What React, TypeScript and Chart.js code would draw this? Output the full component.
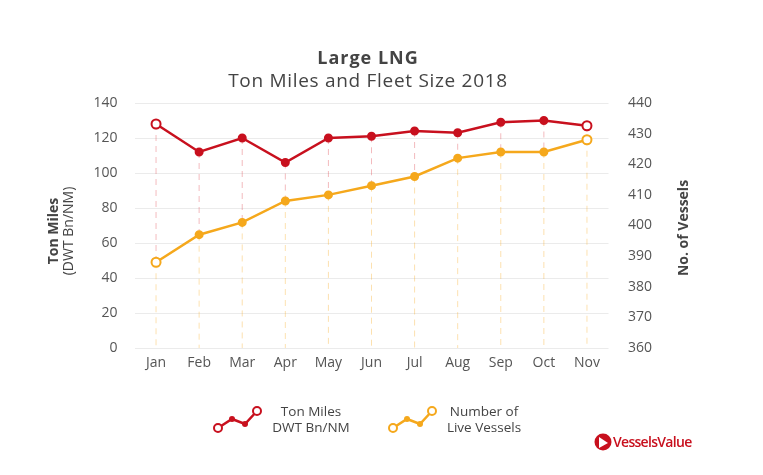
import { useEffect, useRef } from 'react';
import { Chart, registerables } from 'chart.js';
Chart.register(...registerables);

const months = ['Jan', 'Feb', 'Mar', 'Apr', 'May', 'Jun', 'Jul', 'Aug', 'Sep', 'Oct', 'Nov'];
const tonMiles = [128, 112, 120, 106, 120, 121, 124, 123, 129, 130, 127];
const vessels = [388, 397, 401, 408, 410, 413, 416, 422, 424, 424, 428];
const leftTicks = [0, 140, 20];
const rightTicks = [360, 440, 10];

const FONT = '"Open Sans", sans-serif';
const RED = '#c8101e';
const ORANGE = '#f5a81c';
const TEXT = '#444444';

function drawLegendIcon(ctx: CanvasRenderingContext2D, x: number, y: number, color: string) {
  const pts = [[0, 17], [14, 8], [27, 13], [39, 0]];
  ctx.save();
  ctx.strokeStyle = color;
  ctx.lineWidth = 2.5;
  ctx.beginPath();
  pts.forEach(([px, py], i) => (i === 0 ? ctx.moveTo(x + px, y + py) : ctx.lineTo(x + px, y + py)));
  ctx.stroke();
  pts.forEach(([px, py], i) => {
    ctx.beginPath();
    const end = i === 0 || i === pts.length - 1;
    ctx.arc(x + px, y + py, end ? 4 : 3, 0, Math.PI * 2);
    ctx.fillStyle = end ? '#ffffff' : color;
    ctx.fill();
    if (end) { ctx.lineWidth = 2; ctx.stroke(); }
  });
  ctx.restore();
}

export default function App() {
  const ref = useRef<HTMLCanvasElement>(null);
  useEffect(() => {
    const canvas = ref.current!;
    const overlay = {
      id: 'overlay',
      beforeDatasetsDraw(chart: any) {
        const ctx = chart.ctx as CanvasRenderingContext2D;
        const m0 = chart.getDatasetMeta(0);
        const m1 = chart.getDatasetMeta(1);
        const bottom = chart.chartArea.bottom;
        ctx.save();
        ctx.lineWidth = 1;
        ctx.setLineDash([6, 5]);
        for (let i = 0; i < months.length; i++) {
          const x = m0.data[i].x;
          const y0 = m0.data[i].y;
          const y1 = m1.data[i].y;
          if (y0 < y1) {
            ctx.strokeStyle = 'rgba(220,60,70,0.35)';
            ctx.beginPath(); ctx.moveTo(x, y0); ctx.lineTo(x, y1); ctx.stroke();
          }
          ctx.strokeStyle = 'rgba(245,168,28,0.35)';
          ctx.beginPath(); ctx.moveTo(x, Math.max(y1, y0)); ctx.lineTo(x, bottom); ctx.stroke();
        }
        ctx.restore();
      },
      afterDraw(chart: any) {
        const ctx = chart.ctx as CanvasRenderingContext2D;
        ctx.save();
        ctx.fillStyle = TEXT;
        ctx.textAlign = 'center';
        ctx.textBaseline = 'alphabetic';
        ctx.font = `bold 18px ${FONT}`;
        (ctx as any).letterSpacing = '1px';
        ctx.fillText('Large LNG', 368, 64);
        ctx.font = `19px ${FONT}`;
        (ctx as any).letterSpacing = '0.7px';
        ctx.fillText('Ton Miles and Fleet Size 2018', 368, 87);
        (ctx as any).letterSpacing = '0px';

        // axis titles
        ctx.textBaseline = 'middle';
        ctx.save();
        ctx.translate(54, 231);
        ctx.rotate(-Math.PI / 2);
        ctx.font = `bold 14px ${FONT}`;
        ctx.fillText('Ton Miles', 0, 0);
        ctx.restore();
        ctx.save();
        ctx.translate(69, 231);
        ctx.rotate(-Math.PI / 2);
        ctx.font = `14px ${FONT}`;
        ctx.fillText('(DWT Bn/NM)', 0, 0);
        ctx.restore();
        ctx.save();
        ctx.translate(684, 228);
        ctx.rotate(-Math.PI / 2);
        ctx.font = `bold 14px ${FONT}`;
        ctx.fillText('No. of Vessels', 0, 0);
        ctx.restore();

        // legend
        drawLegendIcon(ctx, 218, 411, RED);
        drawLegendIcon(ctx, 393, 411, ORANGE);
        ctx.font = `13.5px ${FONT}`;
        ctx.fillStyle = TEXT;
        ctx.fillText('Ton Miles', 311, 412);
        ctx.fillText('DWT Bn/NM', 311, 428);
        ctx.fillText('Number of', 484, 412);
        ctx.fillText('Live Vessels', 484, 428);

        // logo
        ctx.beginPath();
        ctx.arc(603, 442, 8.5, 0, Math.PI * 2);
        ctx.fillStyle = RED;
        ctx.fill();
        ctx.beginPath();
        ctx.moveTo(599, 437);
        ctx.lineTo(608, 443);
        ctx.lineTo(599, 448);
        ctx.closePath();
        ctx.fillStyle = '#ffffff';
        ctx.fill();
        ctx.fillStyle = RED;
        ctx.textAlign = 'left';
        ctx.font = `600 14px ${FONT}`;
        (ctx as any).letterSpacing = '-0.7px';
        ctx.fillText('VesselsValue', 613, 443);
        ctx.restore();
      },
    };

    const pointR = (ctx: any) => (ctx.dataIndex === 0 || ctx.dataIndex === months.length - 1 ? 4.5 : 3.5);
    const pointBg = (color: string) => (ctx: any) =>
      ctx.dataIndex === 0 || ctx.dataIndex === months.length - 1 ? '#ffffff' : color;

    const chart = new Chart(canvas, {
      type: 'line',
      data: {
        labels: months,
        datasets: [
          {
            label: 'Ton Miles DWT Bn/NM',
            data: tonMiles,
            yAxisID: 'y',
            borderColor: RED,
            borderWidth: 2.5,
            pointRadius: pointR,
            pointBackgroundColor: pointBg(RED),
            pointBorderColor: RED,
            pointBorderWidth: 2,
            tension: 0,
          },
          {
            label: 'Number of Live Vessels',
            data: vessels,
            yAxisID: 'y1',
            borderColor: ORANGE,
            borderWidth: 2.5,
            pointRadius: pointR,
            pointBackgroundColor: pointBg(ORANGE),
            pointBorderColor: ORANGE,
            pointBorderWidth: 2,
            tension: 0,
          },
        ],
      },
      options: {
        responsive: false,
        animation: false,
        layout: { padding: { top: 103, bottom: 97, left: 0, right: 0 } },
        plugins: { legend: { display: false }, title: { display: false }, tooltip: { enabled: false } },
        scales: {
          x: {
            offset: true,
            grid: { display: false, drawTicks: false },
            border: { display: false },
            ticks: { color: '#555555', font: { family: FONT, size: 14 }, padding: 7 },
            afterFit: (s: any) => { s.height = 30; },
          },
          y: {
            position: 'left',
            min: leftTicks[0],
            max: leftTicks[1],
            ticks: { stepSize: leftTicks[2], color: '#555555', font: { family: FONT, size: 14 }, padding: 17 },
            grid: { color: '#ebebeb', lineWidth: 1, drawTicks: false },
            border: { display: false },
            afterFit: (s: any) => { s.width = 134.5; },
          },
          y1: {
            position: 'right',
            min: rightTicks[0],
            max: rightTicks[1],
            ticks: { stepSize: rightTicks[2], color: '#555555', font: { family: FONT, size: 14 }, padding: 19.5 },
            grid: { display: false, drawTicks: false },
            border: { display: false },
            afterFit: (s: any) => { s.width = 154.5; },
          },
        },
      },
      plugins: [overlay],
    });
    return () => chart.destroy();
  }, []);
  return (
    <div style={{ position: 'fixed', left: 0, top: 0, width: 763, height: 475, background: '#ffffff' }}>
      <canvas ref={ref} width={763} height={475} style={{ display: 'block', width: 763, height: 475 }} />
    </div>
  );
}
